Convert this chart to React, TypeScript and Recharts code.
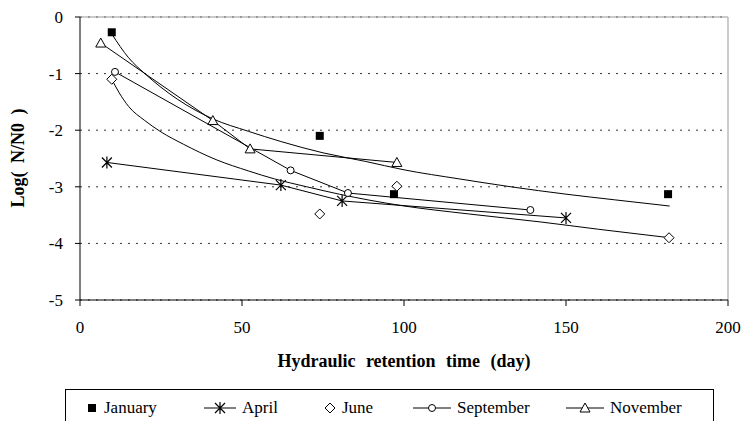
import {
  ComposedChart,
  Line,
  Scatter,
  XAxis,
  YAxis,
  CartesianGrid,
  ReferenceLine,
} from "recharts";

// hydraulic retention time (day) / log(N/N0)
const januaryX = [9.8, 74, 96.9, 181.5];
const januaryY = [-0.27, -2.1, -3.13, -3.13];
const januaryTrendX = [9.8, 15, 20, 30, 41, 52, 62, 75, 88, 100, 117, 133, 150, 165, 182];
const januaryTrendY = [-0.3, -0.72, -1.0, -1.45, -1.8, -2.02, -2.2, -2.4, -2.55, -2.7, -2.86, -3.0, -3.13, -3.23, -3.34];

const aprilX = [8.3, 62, 80.9, 150];
const aprilY = [-2.57, -2.97, -3.25, -3.55];

const juneX = [9.8, 74, 97.8, 181.8];
const juneY = [-1.1, -3.48, -2.99, -3.9];
const juneTrendX = [9.8, 12, 15, 20, 25, 32, 42, 52, 60, 70, 80, 99, 120, 142, 160, 182];
const juneTrendY = [-1.1, -1.33, -1.58, -1.83, -2.03, -2.25, -2.52, -2.72, -2.86, -3.0, -3.13, -3.33, -3.48, -3.62, -3.75, -3.9];

const septemberX = [10.8, 65, 82.7, 139];
const septemberY = [-0.97, -2.71, -3.11, -3.41];

const novemberX = [6.4, 41, 52.5, 97.8];
const novemberY = [-0.46, -1.83, -2.33, -2.57];

const xTicks = [0, 50, 100, 150, 200];
const yTicks = [-5, -4, -3, -2, -1, 0];

const FONT = "'Liberation Serif', 'DejaVu Serif', 'Times New Roman', Times, serif";

const toPoints = (xs: number[], ys: number[]) => xs.map((x, i) => ({ x, y: ys[i] }));

type MarkProps = { cx?: number; cy?: number; index?: number };

function SquareMark({ cx = 0, cy = 0 }: MarkProps) {
  return <rect x={cx - 4} y={cy - 4} width={8} height={8} fill="#000" />;
}

function DiamondMark({ cx = 0, cy = 0 }: MarkProps) {
  return (
    <path
      d={`M${cx},${cy - 5}L${cx + 5},${cy}L${cx},${cy + 5}L${cx - 5},${cy}Z`}
      fill="#fff"
      stroke="#000"
      strokeWidth={1}
    />
  );
}

function CircleMark({ cx = 0, cy = 0 }: MarkProps) {
  return <circle cx={cx} cy={cy} r={3.5} fill="#fff" stroke="#000" strokeWidth={1} />;
}

function TriangleMark({ cx = 0, cy = 0 }: MarkProps) {
  return (
    <path
      d={`M${cx},${cy - 5}L${cx + 5},${cy + 4}L${cx - 5},${cy + 4}Z`}
      fill="#fff"
      stroke="#000"
      strokeWidth={1}
    />
  );
}

function StarMark({ cx = 0, cy = 0 }: MarkProps) {
  return (
    <path
      d={`M${cx - 5},${cy - 5}L${cx + 5},${cy + 5}M${cx + 5},${cy - 5}L${cx - 5},${cy + 5}M${cx},${cy - 6}L${cx},${cy + 6}`}
      stroke="#000"
      strokeWidth={1.2}
      fill="none"
    />
  );
}

const dotFor = (Mark: (p: MarkProps) => JSX.Element) => (props: MarkProps) =>
  <Mark key={`m-${props.index}`} cx={props.cx} cy={props.cy} />;

function LegendItem({ left, children, label, lineW }: { left: number; children: JSX.Element; label: string; lineW?: number }) {
  const w = lineW ?? 12;
  return (
    <div style={{ position: "absolute", left, top: 0, height: 36, display: "flex", alignItems: "center" }}>
      <svg width={w} height={14} style={{ marginRight: 6 }}>
        {lineW ? <line x1={0} y1={7} x2={w} y2={7} stroke="#000" strokeWidth={1} /> : null}
        {children}
      </svg>
      <span>{label}</span>
    </div>
  );
}

export default function App() {
  return (
    <div
      style={{
        position: "fixed",
        left: 0,
        top: 0,
        width: 743,
        height: 421,
        background: "#fff",
        fontFamily: FONT,
        color: "#000",
        overflow: "hidden",
      }}
    >
      <ComposedChart
        width={743}
        height={345}
        margin={{ top: 17, right: 15, bottom: 15, left: 10 }}
        style={{ fontFamily: FONT }}
      >
        <CartesianGrid horizontal vertical={false} stroke="#333" strokeDasharray="2 6" />
        <XAxis
          type="number"
          dataKey="x"
          domain={[0, 200]}
          ticks={xTicks}
          stroke="#000"
          tickSize={6}
          tickMargin={15}
          height={30}
          tick={{ fill: "#000", fontSize: 17, fontFamily: FONT }}
          allowDuplicatedCategory={false}
        />
        <YAxis
          type="number"
          dataKey="y"
          domain={[-5, 0]}
          ticks={yTicks}
          width={70}
          stroke="#000"
          tickSize={5}
          tickMargin={12}
          tick={{ fill: "#000", fontSize: 17, fontFamily: FONT }}
        />
        <ReferenceLine y={0} stroke="#999" />
        <ReferenceLine x={200} stroke="#999" />
        <Line
          data={toPoints(januaryTrendX, januaryTrendY)}
          dataKey="y"
          type="monotone"
          stroke="#000"
          strokeWidth={1}
          dot={false}
          activeDot={false}
          isAnimationActive={false}
        />
        <Line
          data={toPoints(juneTrendX, juneTrendY)}
          dataKey="y"
          type="monotone"
          stroke="#000"
          strokeWidth={1}
          dot={false}
          activeDot={false}
          isAnimationActive={false}
        />
        <Line
          data={toPoints(aprilX, aprilY)}
          dataKey="y"
          type="linear"
          stroke="#000"
          strokeWidth={1}
          dot={dotFor(StarMark)}
          activeDot={false}
          isAnimationActive={false}
        />
        <Line
          data={toPoints(septemberX, septemberY)}
          dataKey="y"
          type="linear"
          stroke="#000"
          strokeWidth={1}
          dot={dotFor(CircleMark)}
          activeDot={false}
          isAnimationActive={false}
        />
        <Line
          data={toPoints(novemberX, novemberY)}
          dataKey="y"
          type="linear"
          stroke="#000"
          strokeWidth={1}
          dot={dotFor(TriangleMark)}
          activeDot={false}
          isAnimationActive={false}
        />
        <Scatter data={toPoints(januaryX, januaryY)} dataKey="y" shape={SquareMark} isAnimationActive={false} />
        <Scatter data={toPoints(juneX, juneY)} dataKey="y" shape={DiamondMark} isAnimationActive={false} />
      </ComposedChart>

      <div
        style={{
          position: "absolute",
          left: 18,
          top: 158,
          transform: "translate(-50%, -50%) rotate(-90deg)",
          fontWeight: "bold",
          fontSize: 18,
          wordSpacing: 4,
          whiteSpace: "nowrap",
        }}
      >
        Log( N/N0 )
      </div>

      <div
        style={{
          position: "absolute",
          left: 404,
          top: 361,
          transform: "translate(-50%, -50%)",
          fontWeight: "bold",
          fontSize: 18,
          wordSpacing: 6,
          whiteSpace: "nowrap",
        }}
      >
        Hydraulic retention time (day)
      </div>

      <div
        style={{
          position: "absolute",
          left: 65,
          top: 389,
          width: 647,
          height: 60,
          border: "1px solid #000",
          fontSize: 17,
        }}
      >
        <LegendItem left={20} label="January">
          <rect x={2} y={3} width={8} height={8} fill="#000" />
        </LegendItem>
        <LegendItem left={138} label="April" lineW={32}>
          <StarMark cx={16} cy={7} />
        </LegendItem>
        <LegendItem left={258} label="June">
          <DiamondMark cx={6} cy={7} />
        </LegendItem>
        <LegendItem left={347} label="September" lineW={38}>
          <CircleMark cx={19} cy={7} />
        </LegendItem>
        <LegendItem left={500} label="November" lineW={38}>
          <TriangleMark cx={19} cy={7} />
        </LegendItem>
      </div>
    </div>
  );
}
